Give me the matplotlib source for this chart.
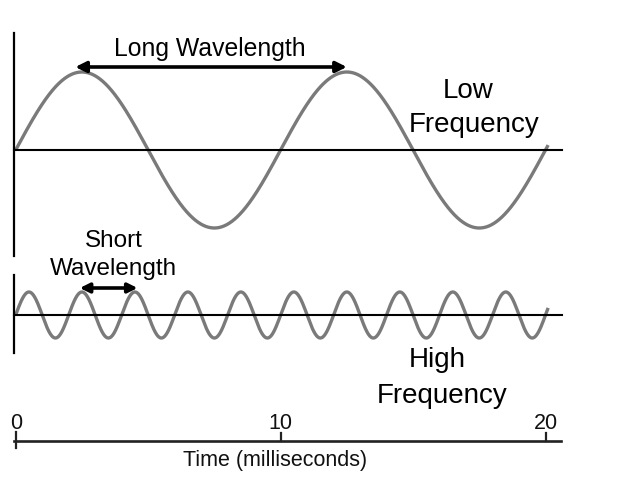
import numpy as np
import matplotlib
matplotlib.use("Agg")
import matplotlib.pyplot as plt

# chart data
period_low_ms = 10.0
period_high_ms = 2.0
t_end_ms = 20.1
tick_values = [0, 10, 20]
tick_labels = ["0", "10", "20"]
axis_label = "Time (milliseconds)"

W, H = 638, 479
px_per_ms = 26.49
x0_px = 15.7

fig = plt.figure(figsize=(W / 100, H / 100), dpi=100)
ax = fig.add_axes([0, 0, 1, 1])
ax.set_xlim(-x0_px / px_per_ms, (W - x0_px) / px_per_ms)
ax.set_ylim(H, 0)
ax.axis("off")


def ms(px):
    return (px - x0_px) / px_per_ms


font = "Liberation Sans"
wave_color = "#7a7a7a"

t = np.linspace(0, t_end_ms, 2000)

# low frequency panel
low_base, low_amp = 150, 78
ax.plot(t, low_base - low_amp * np.sin(2 * np.pi * t / period_low_ms),
        color=wave_color, lw=2.4, solid_capstyle="butt")
ax.plot([ms(14), ms(562)], [low_base, low_base], color="black", lw=1.5)
ax.plot([ms(14), ms(14)], [33, 256], color="black", lw=1.6)

# high frequency panel
high_base, high_amp = 315, 23
ax.plot(t, high_base - high_amp * np.sin(2 * np.pi * t / period_high_ms),
        color=wave_color, lw=2.4, solid_capstyle="butt")
ax.plot([ms(14), ms(562)], [high_base, high_base], color="black", lw=1.5)
ax.plot([ms(14), ms(14)], [275, 353], color="black", lw=1.6)

# wavelength arrows (peak to peak)
p1 = period_low_ms / 4
ax.annotate("", xy=(p1 - 0.25, 67), xytext=(p1 + period_low_ms, 67),
            arrowprops=dict(arrowstyle="<|-|>", color="black", lw=2.6,
                            mutation_scale=16, shrinkA=0, shrinkB=0))
p2 = period_high_ms / 4 + period_high_ms
ax.annotate("", xy=(p2 - 0.08, 288), xytext=(p2 + period_high_ms + 0.1, 288),
            arrowprops=dict(arrowstyle="<|-|>", color="black", lw=2.6,
                            mutation_scale=14, shrinkA=0, shrinkB=0))

ax.text(ms(210), 56, "Long Wavelength", family=font, fontsize=17.8,
        ha="center", va="baseline")
ax.text(ms(114), 247, "Short", family=font, fontsize=17.5,
        ha="center", va="baseline")
ax.text(ms(113.5), 275, "Wavelength", family=font, fontsize=17.5,
        ha="center", va="baseline")
ax.text(ms(468), 98, "Low", family=font, fontsize=20,
        ha="center", va="baseline")
ax.text(ms(474), 132, "Frequency", family=font, fontsize=20,
        ha="center", va="baseline")
ax.text(ms(437), 367, "High", family=font, fontsize=20,
        ha="center", va="baseline")
ax.text(ms(442), 403, "Frequency", family=font, fontsize=20,
        ha="center", va="baseline")

# time axis
axis_y = 440.7
ax.plot([ms(14), ms(561)], [axis_y, axis_y], color="#222222", lw=1.9)
for v, lab in zip(tick_values, tick_labels):
    if v == 0:
        ax.plot([v, v], [432, 448], color="#222222", lw=1.6)
    else:
        ax.plot([v, v], [433, axis_y], color="#222222", lw=1.6)
    ax.text(v, 429, lab, family=font, fontsize=15.5,
            ha="center", va="baseline", color="#111111")
ax.text(ms(275), 466, axis_label, family=font, fontsize=15.5,
        ha="center", va="baseline", color="#111111")

fig.savefig("out.png", dpi=100, facecolor="white")
